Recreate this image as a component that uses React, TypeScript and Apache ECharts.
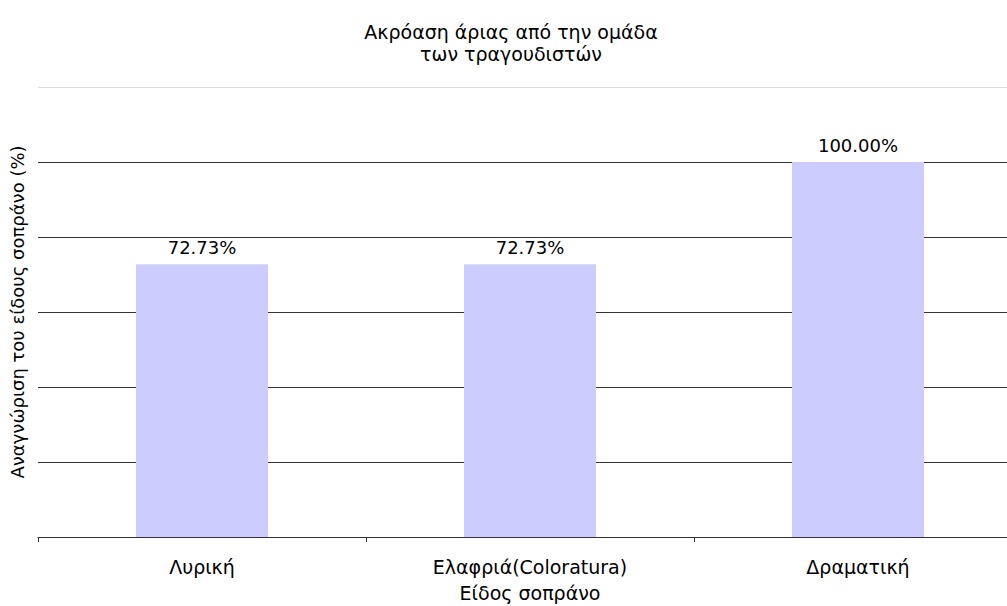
import React, { useEffect, useRef } from "react";
import * as echarts from "echarts";

const categories = ["Λυρική", "Ελαφριά(Coloratura)", "Δραματική"];
const values = [72.73, 72.73, 100.0];
const titleText = "Ακρόαση άριας από την ομάδα\nτων τραγουδιστών";
const xAxisName = "Είδος σοπράνο";
const yAxisName = "Αναγνώριση του είδους σοπράνο (%)";

const FONT = "DejaVu Sans, Verdana, sans-serif";

export default function App() {
  const ref = useRef<HTMLDivElement>(null);
  useEffect(() => {
    if (!ref.current) return;
    const chart = echarts.init(ref.current, null, { renderer: "svg" });
    chart.setOption({
      animation: false,
      backgroundColor: "#ffffff",
      title: {
        text: titleText,
        left: "center",
        top: 16,
        textStyle: {
          fontFamily: FONT,
          fontSize: 19,
          fontWeight: "normal",
          color: "#000",
          lineHeight: 22,
        },
      },
      grid: { left: 38, right: 0, top: 87, bottom: 69, containLabel: false, outerBoundsMode: "none" },
      xAxis: {
        type: "category",
        data: categories,
        name: xAxisName,
        nameLocation: "middle",
        nameGap: 46,
        nameTextStyle: { fontFamily: FONT, fontSize: 19, color: "#000" },
        axisLine: { lineStyle: { color: "#333", width: 1 } },
        axisTick: { show: true, length: 5, lineStyle: { color: "#333" } },
        axisLabel: { fontFamily: FONT, fontSize: 19, color: "#000", margin: 20 },
        splitLine: { show: false },
      },
      yAxis: {
        type: "value",
        min: 0,
        max: 120,
        interval: 20,
        name: yAxisName,
        nameLocation: "middle",
        nameGap: 12,
        nameTextStyle: { fontFamily: FONT, fontSize: 18, color: "#000" },
        axisLine: { show: false },
        axisTick: { show: false },
        axisLabel: { show: false },
        splitLine: {
          show: true,
          lineStyle: {
            color: ["#333", "#333", "#333", "#333", "#333", "#333", "#dddddd"],
            width: 1,
          },
        },
      },
      series: [
        {
          type: "bar",
          data: values,
          barWidth: 132,
          itemStyle: { color: "#ccccff" },
          label: {
            show: true,
            position: "top",
            distance: 8,
            formatter: (p: any) => p.value.toFixed(2) + "%",
            fontFamily: FONT,
            fontSize: 18,
            color: "#000",
          },
        },
      ],
    });
    return () => chart.dispose();
  }, []);
  return (
    <div style={{ width: 1007, height: 606, position: "absolute", left: 0, top: 0, overflow: "hidden" }}>
      <div ref={ref} style={{ width: 1022, height: 606 }} />
    </div>
  );
}
